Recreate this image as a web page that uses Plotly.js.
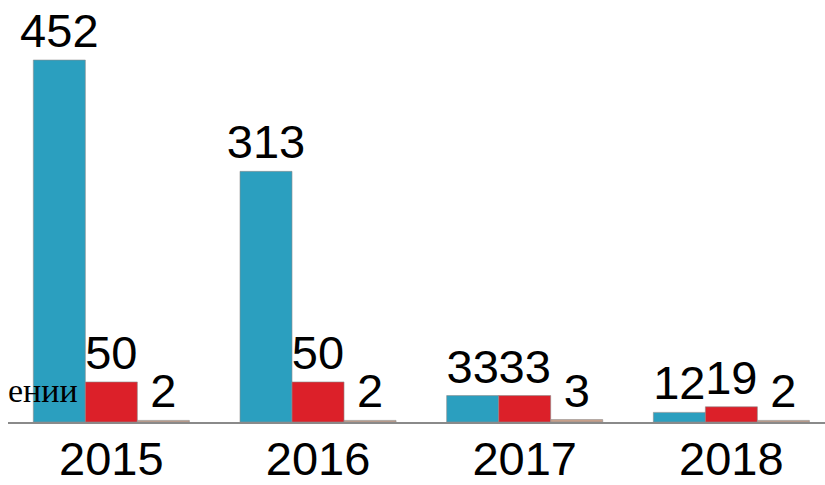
<!DOCTYPE html>
<html>
<head>
<meta charset="utf-8">
<script src="https://cdn.plot.ly/plotly-3.0.1.min.js"></script>
<style>html,body{margin:0;padding:0;background:#fff;overflow:hidden;}</style>
</head>
<body>
<div id="chart" style="width:825px;height:485px;"></div>
<script>
const categories = ["2015", "2016", "2017", "2018"];
const series1 = [452, 313, 33, 12];
const series2 = [50, 50, 33, 19];
const series3 = [2, 2, 3, 2];
const colors = ["#2b9fbf", "#dc2029", "#c9a08a"];
const seriesList = [series1, series2, series3];

const traces = seriesList.map((vals, i) => ({
  type: "bar",
  x: categories,
  y: vals,
  text: vals.map(String),
  textposition: "outside",
  constraintext: "none",
  cliponaxis: false,
  textfont: {family: "Liberation Sans, Arial, sans-serif", size: 47, color: "#000"},
  marker: {color: colors[i], line: {color: "rgba(140,140,140,0.6)", width: 1}},
  hoverinfo: "none",
  showlegend: false
}));

const layout = {
  width: 825,
  height: 485,
  margin: {l: 8, r: 0, t: 20, b: 63},
  paper_bgcolor: "#fff",
  plot_bgcolor: "#fff",
  barmode: "group",
  bargap: 0.245,
  bargroupgap: 0,
  showlegend: false,
  xaxis: {
    type: "category",
    range: [-0.5, 3.453],
    showline: true,
    linecolor: "#8a8a8a",
    linewidth: 2,
    layer: "above traces",
    showgrid: false,
    zeroline: false,
    ticks: "",
    ticklabelstandoff: -5,
    tickfont: {family: "Liberation Sans, Arial, sans-serif", size: 47, color: "#000"}
  },
  yaxis: {
    range: [0, 502],
    visible: false,
    showgrid: false,
    zeroline: false
  },
  annotations: [{
    xref: "paper", yref: "paper",
    x: 72 / 817, y: 0.079,
    xanchor: "right", yanchor: "middle",
    text: "ении",
    showarrow: false,
    font: {family: "Liberation Serif, Times New Roman, serif", size: 34, color: "#000"}
  }]
};

Plotly.newPlot("chart", traces, layout, {displayModeBar: false, staticPlot: true});
</script>
</body>
</html>
